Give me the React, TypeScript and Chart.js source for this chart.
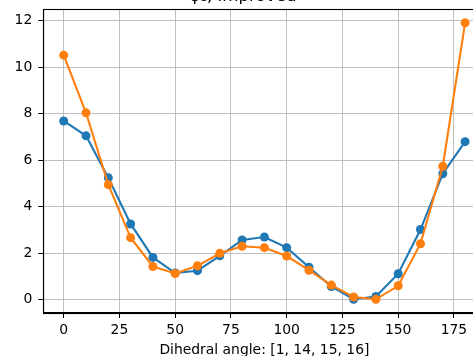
import React, { useEffect, useRef } from "react";
import { Chart, registerables } from "chart.js";

Chart.register(...registerables);

const angles = [0, 10, 20, 30, 40, 50, 60, 70, 80, 90, 100, 110, 120, 130, 140, 150, 160, 170, 180];
const seriesA = [7.69, 7.05, 5.25, 3.26, 1.82, 1.15, 1.25, 1.89, 2.57, 2.7, 2.24, 1.4, 0.57, 0.02, 0.14, 1.12, 3.02, 5.42, 6.8];
const seriesB = [10.52, 8.04, 4.95, 2.67, 1.43, 1.13, 1.46, 2.0, 2.3, 2.24, 1.88, 1.27, 0.63, 0.12, 0.02, 0.6, 2.41, 5.74, 11.91];
const xTickValues = [0, 25, 50, 75, 100, 125, 150, 175];
const yTickValues = [0, 2, 4, 6, 8, 10, 12];
const titleText = "φ₁, improved";
const xTitle = "Dihedral angle: [1, 14, 15, 16]";

const FONT = "'DejaVu Sans', sans-serif";

const frame = {
  id: "frame",
  afterDatasetsDraw(chart: any) {
    const { ctx, chartArea } = chart;
    ctx.save();
    ctx.strokeStyle = "#000";
    ctx.lineWidth = 1.1;
    ctx.strokeRect(
      Math.round(chartArea.left) + 0.5,
      Math.round(chartArea.top) + 0.5,
      Math.round(chartArea.right - chartArea.left),
      Math.round(chartArea.bottom - chartArea.top)
    );
    ctx.restore();
  },
};

export default function App() {
  const ref = useRef<HTMLCanvasElement>(null);
  useEffect(() => {
    const canvas = ref.current!;
    const font = { family: FONT, size: 13.9 };
    const gridColor = "#bfbfbf";
    const chart = new Chart(canvas, {
      type: "line",
      data: {
        datasets: [
          {
            data: angles.map((x, i) => ({ x, y: seriesA[i] })),
            borderColor: "#1f77b4",
            backgroundColor: "#1f77b4",
            borderWidth: 2.1,
            pointRadius: 4.5,
            pointBorderWidth: 0,
            order: 1,
          },
          {
            data: angles.map((x, i) => ({ x, y: seriesB[i] })),
            borderColor: "#ff7f0e",
            backgroundColor: "#ff7f0e",
            borderWidth: 2.1,
            pointRadius: 4.5,
            pointBorderWidth: 0,
            order: 0,
          },
        ],
      },
      options: {
        animation: false,
        responsive: false,
        layout: { padding: { left: 0.3, right: 42.5, top: 0, bottom: 0 } },
        plugins: {
          legend: { display: false },
          tooltip: { enabled: false },
          title: {
            display: true,
            text: titleText,
            color: "#000",
            font: { family: FONT, size: 16.7, weight: "normal" },
            padding: { top: 0, bottom: 2.3 },
          },
        },
        scales: {
          x: {
            type: "linear",
            min: -9.15,
            max: 189.15,
            afterBuildTicks: (s: any) => {
              s.ticks = xTickValues.map((v) => ({ value: v }));
            },
            afterFit: (s: any) => {
              s.height = 46;
            },
            ticks: { color: "#000", font, padding: 4, maxRotation: 0, autoSkip: false },
            grid: { color: gridColor, lineWidth: 1, tickColor: "#000", tickLength: 5, drawTicks: true },
            border: { color: "#000", width: 1.1 },
            title: { display: true, text: xTitle, color: "#000", font, padding: { top: 2, bottom: 0 } },
          },
          y: {
            type: "linear",
            min: -0.57,
            max: 12.49,
            afterBuildTicks: (s: any) => {
              s.ticks = yTickValues.map((v) => ({ value: v }));
            },
            afterFit: (s: any) => {
              s.width = 43;
            },
            ticks: { color: "#000", font, padding: 6, autoSkip: false },
            grid: { color: gridColor, lineWidth: 1, tickColor: "#000", tickLength: 5, drawTicks: true },
            border: { color: "#000", width: 1.1 },
          },
        },
      } as any,
      plugins: [frame],
    });
    return () => chart.destroy();
  }, []);
  return (
    <div style={{ position: "fixed", left: 0, top: 0, width: 473, height: 356, overflow: "hidden", background: "#fff" }}>
      <canvas ref={ref} width={528} height={372} style={{ position: "absolute", left: 0, top: -13, width: 528, height: 372 }} />
    </div>
  );
}
